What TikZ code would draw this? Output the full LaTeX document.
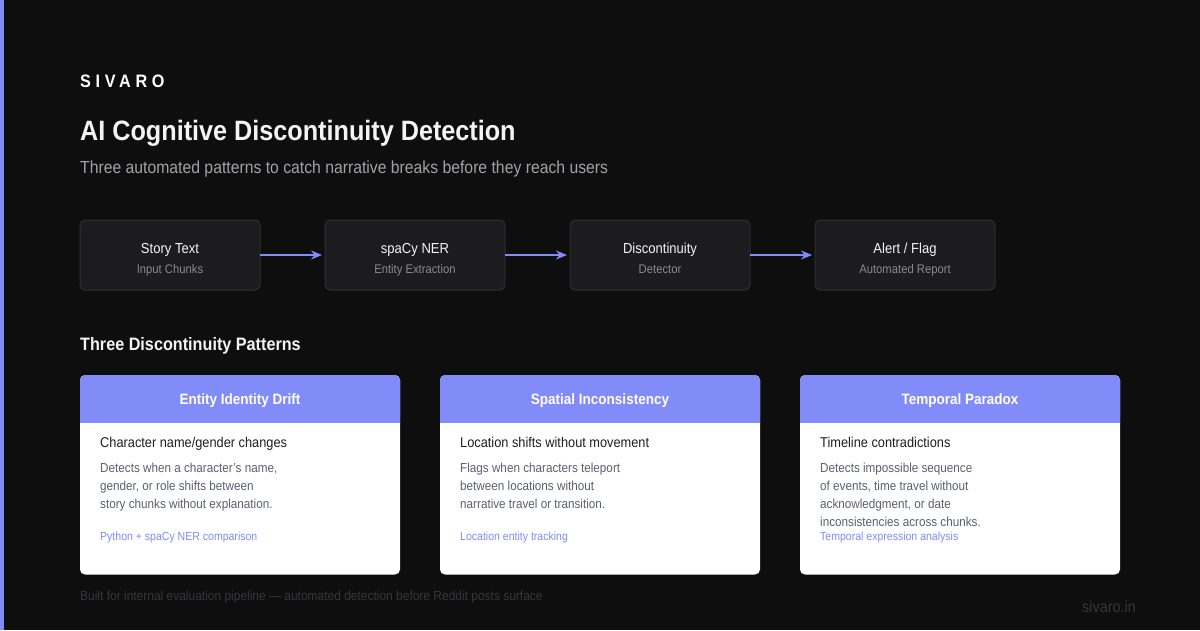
\documentclass[tikz,border=0pt]{standalone}
\usepackage{fontspec}
\setmainfont{Liberation Sans}[FakeStretch=0.9]
\usetikzlibrary{arrows.meta, positioning}
\definecolor{pagebg}{HTML}{0E0E0F}
\definecolor{indigo}{HTML}{818CF8}
\definecolor{boxfill}{HTML}{1C1C1E}
\definecolor{boxline}{HTML}{2E2E31}
\definecolor{snow}{HTML}{F4F4F5}
\definecolor{mist}{HTML}{A1A1AA}
\definecolor{dimgray}{HTML}{8A8A90}
\definecolor{ink}{HTML}{1F1F23}
\definecolor{slate}{HTML}{5B6070}
\definecolor{faint}{HTML}{36363A}

\begin{document}
\begin{tikzpicture}[x=1pt, y=-1pt, >={Stealth[length=11pt, width=9pt]},
  stage/.style={draw=boxline, fill=boxfill, line width=1pt, rounded corners=5pt,
    minimum width=180pt, minimum height=70pt, inner sep=0pt, outer sep=0pt},
  stagetitle/.style={text=snow, font=\fontsize{14.5}{16}\selectfont, anchor=base},
  stagesub/.style={text=dimgray, font=\fontsize{12.5}{14}\selectfont, anchor=base},
  flow/.style={->, indigo, line width=2pt, shorten >=3pt},
  cardhead/.style={text=white, font=\bfseries\fontsize{15}{17}\selectfont, anchor=base},
  cardsub/.style={text=ink, font=\fontsize{14.2}{16}\selectfont, anchor=base west, inner sep=0pt},
  carddesc/.style={text=slate, font=\fontsize{13}{18}\selectfont, align=left,
    anchor=north west, inner sep=0pt},
  cardtag/.style={text=indigo, font=\fontsize{11.7}{13}\selectfont, anchor=base west, inner sep=0pt}]

% Background
\fill[pagebg] (0,0) rectangle (1200,630);
\useasboundingbox (0,0) rectangle (1200,630);
\fill[indigo] (0,0) rectangle (3.5,630);

% Header
\node[anchor=base west, inner sep=0pt, text=white,
      font=\bfseries\fontsize{18}{20}\selectfont\addfontfeature{LetterSpace=26}] (brand) at (80,87) {SIVARO};
\node[anchor=base west, inner sep=0pt, text=snow, font=\bfseries\fontsize{28}{32}\selectfont] (title) at (80,140)
  {AI Cognitive Discontinuity Detection};
\node[anchor=base west, inner sep=0pt, text=mist, font=\fontsize{17.5}{20}\selectfont] (subtitle) at (80,173)
  {Three automated patterns to catch narrative breaks before they reach users};

% Pipeline
\node[stage] (story) at (170,255) {};
\node[stage, right=65pt of story] (ner) {};
\node[stage, right=65pt of ner] (detector) {};
\node[stage, right=65pt of detector] (alert) {};

\node[stagetitle] (storyT) at ([yshift=1.7pt]story.center) {Story Text};
\node[stagesub] (storyS) at ([yshift=-18.3pt]story.center) {Input Chunks};
\node[stagetitle] (nerT) at ([yshift=1.7pt]ner.center) {spaCy NER};
\node[stagesub] (nerS) at ([yshift=-18.3pt]ner.center) {Entity Extraction};
\node[stagetitle] (detectorT) at ([yshift=1.7pt]detector.center) {Discontinuity};
\node[stagesub] (detectorS) at ([yshift=-18.3pt]detector.center) {Detector};
\node[stagetitle] (alertT) at ([yshift=1.7pt]alert.center) {Alert / Flag};
\node[stagesub] (alertS) at ([yshift=-18.3pt]alert.center) {Automated Report};

\draw[flow] (story) -- (ner);
\draw[flow] (ner) -- (detector);
\draw[flow] (detector) -- (alert);

% Section heading
\node[anchor=base west, inner sep=0pt, text=snow, font=\bfseries\fontsize{18}{20}\selectfont] (patterns) at (80,350.5)
  {Three Discontinuity Patterns};

% Card 1
\fill[white, rounded corners=5pt] (80,375) rectangle (400,574.5);
\fill[indigo, rounded corners=5pt] (80,375) rectangle (400,422.5);
\fill[indigo] (80,400) rectangle (400,422.5);
\node[cardhead] (driftH) at (240,404.5) {Entity Identity Drift};
\node[cardsub] (driftS) at (100,447.5) {Character name/gender changes};
\node[carddesc] (driftD) at (100,463) {Detects when a character's name,\\gender, or role shifts between\\story chunks without explanation.};
\node[cardtag] (driftT) at (100,540) {Python + spaCy NER comparison};

% Card 2
\fill[white, rounded corners=5pt] (440,375) rectangle (760,574.5);
\fill[indigo, rounded corners=5pt] (440,375) rectangle (760,422.5);
\fill[indigo] (440,400) rectangle (760,422.5);
\node[cardhead] (spaceH) at (600,404.5) {Spatial Inconsistency};
\node[cardsub] (spaceS) at (460,447.5) {Location shifts without movement};
\node[carddesc] (spaceD) at (460,463) {Flags when characters teleport\\between locations without\\narrative travel or transition.};
\node[cardtag] (spaceT) at (460,540) {Location entity tracking};

% Card 3
\fill[white, rounded corners=5pt] (800,375) rectangle (1120,574.5);
\fill[indigo, rounded corners=5pt] (800,375) rectangle (1120,422.5);
\fill[indigo] (800,400) rectangle (1120,422.5);
\node[cardhead] (timeH) at (960,404.5) {Temporal Paradox};
\node[cardsub] (timeS) at (820,447.5) {Timeline contradictions};
\node[carddesc] (timeD) at (820,463) {Detects impossible sequence\\of events, time travel without\\acknowledgment, or date\\inconsistencies across chunks.};
\node[cardtag] (timeT) at (820,540) {Temporal expression analysis};

% Footer
\node[anchor=base west, inner sep=0pt, text=faint, font=\fontsize{13.3}{15}\selectfont] (footnote) at (80,600.5)
  {Built for internal evaluation pipeline --- automated detection before Reddit posts surface};
\node[anchor=base east, inner sep=0pt, text=faint, font=\fontsize{16}{18}\selectfont] (site) at (1136,612.5) {sivaro.in};

\end{tikzpicture}
\end{document}
